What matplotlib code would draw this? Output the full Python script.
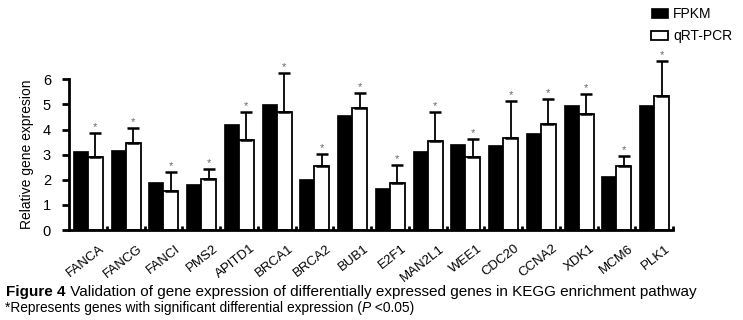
import matplotlib
matplotlib.use("Agg")
import matplotlib.pyplot as plt
import numpy as np

genes = ["FANCA", "FANCG", "FANCI", "PMS2", "APITD1", "BRCA1", "BRCA2", "BUB1",
         "E2F1", "MAN2L1", "WEE1", "CDC20", "CCNA2", "XDK1", "MCM6", "PLK1"]
fpkm = [3.15, 3.20, 1.91, 1.83, 4.22, 5.00, 2.04, 4.57,
        1.69, 3.13, 3.42, 3.37, 3.88, 4.99, 2.16, 4.96]
qpcr = [2.89, 3.48, 1.54, 2.03, 3.60, 4.70, 2.55, 4.87,
        1.87, 3.56, 2.91, 3.68, 4.23, 4.61, 2.54, 5.35]
qpcr_err = [0.99, 0.60, 0.76, 0.41, 1.10, 1.55, 0.46, 0.57,
            0.73, 1.14, 0.71, 1.46, 0.97, 0.81, 0.39, 1.38]

plt.rcParams['font.family'] = ['Liberation Sans', 'DejaVu Sans']

fig = plt.figure(figsize=(7.43, 3.2), dpi=100)
ax = fig.add_axes([0.0929, 0.281, 0.8129, 0.471])

x = np.arange(len(genes))
w = 0.4
ax.bar(x - w / 2, fpkm, w, color="black", edgecolor="black", linewidth=0.5, label="FPKM")
ax.bar(x + w / 2, qpcr, w, color="white", edgecolor="black", linewidth=1.3, label="qRT-PCR")
ax.errorbar(x + w / 2, qpcr, yerr=[np.zeros(len(x)), qpcr_err], fmt="none",
            ecolor="black", elinewidth=1.3, capsize=4, capthick=1.8, clip_on=False)
for xi, v, e in zip(x, qpcr, qpcr_err):
    ax.text(xi + w / 2, v + e + 0.04, "*", ha="center", va="bottom",
            fontsize=8, color="#666666", clip_on=False)

ax.set_xlim(-0.5, 15.5)
ax.set_ylim(0, 6)
ax.set_yticks(range(7))
ax.tick_params(axis="y", direction="out", length=5, width=2, labelsize=10.5, pad=8)
ax.set_xticks(x + 0.3)
ax.set_xticklabels(genes, rotation=38, ha="right", rotation_mode="anchor", fontsize=9.5)
ax.tick_params(axis="x", length=0, pad=9)
ax.set_xticks(x + 0.5, minor=True)
ax.tick_params(axis="x", which="minor", direction="in", length=3, width=2)
for s in ["top", "right"]:
    ax.spines[s].set_visible(False)
for s in ["left", "bottom"]:
    ax.spines[s].set_linewidth(2)

ax.set_ylabel("Relative gene expresion", fontsize=10, labelpad=6)
fig.legend(loc="upper left", bbox_to_anchor=(651 / 743, 1 - 7 / 320), frameon=False,
           fontsize=10, borderpad=0, borderaxespad=0, handlelength=1.2,
           handleheight=0.65, handletextpad=0.4, labelspacing=0.6)

# caption lines, drawn run by run
fig.canvas.draw()
renderer = fig.canvas.get_renderer()


def draw_runs(runs, x0, y0, size):
    xp = x0
    for txt, kw in runs:
        t = fig.text(xp / 743, y0 / 320, txt, fontsize=size, va="baseline", **kw)
        bb = t.get_window_extent(renderer)
        xp = bb.x1


draw_runs([("Figure 4", {"weight": "bold"}),
           (" Validation of gene expression of differentially expressed genes in KEGG enrichment pathway", {})],
          6, 320 - 296, 10.95)
draw_runs([("*Represents genes with significant differential expression (", {}),
           ("P", {"style": "italic"}),
           (" <0.05)", {})],
          5, 320 - 312, 9.9)

fig.savefig("out.png", dpi=100)
